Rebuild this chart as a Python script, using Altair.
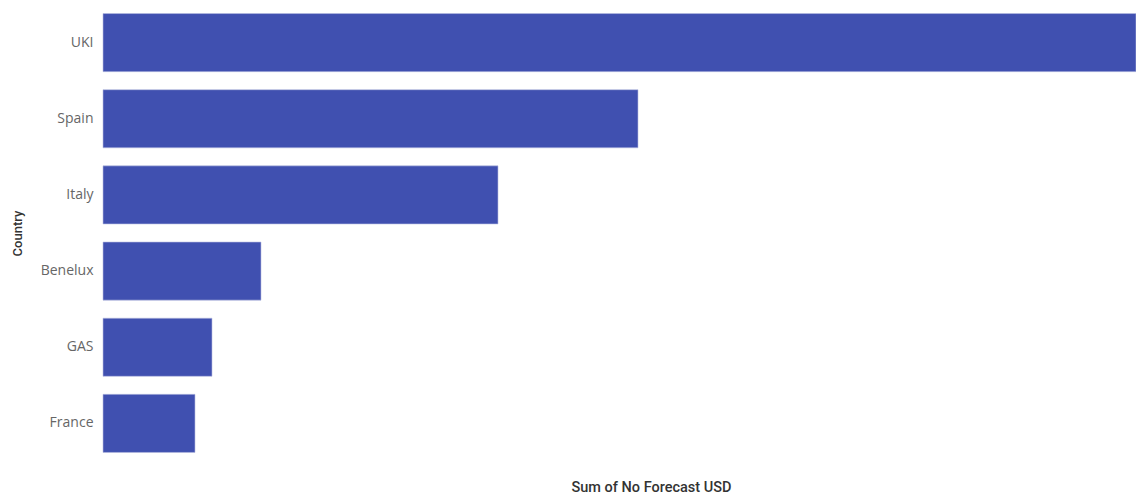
import altair as alt
import pandas as pd

countries = ["UKI", "Spain", "Italy", "Benelux", "GAS", "France"]
values = [1033, 535, 395, 158, 109, 92]

df = pd.DataFrame({"Country": countries, "Value": values})

chart = alt.Chart(df).mark_bar(color="#4050B0", stroke="#B8BEE0", strokeWidth=0.6).encode(
    y=alt.Y("Country:N", sort=countries,
            scale=alt.Scale(paddingInner=0.237, paddingOuter=0.178),
            axis=alt.Axis(title="Country", ticks=False, domain=False, labelPadding=10,
                          labelFont="Open Sans", labelFontSize=14, labelColor="#666666",
                          titleFont="Roboto", titleFontSize=13, titleFontWeight=500,
                          titleColor="#333333", titleAngle=-90, titleX=-86, titleY=233,
                          titleAlign="center", titleBaseline="middle")),
    x=alt.X("Value:Q", scale=alt.Scale(domain=[0, 1033], nice=False),
            axis=alt.Axis(title="Sum of No Forecast USD", labels=False, ticks=False,
                          domain=False, grid=False,
                          titleFont="Roboto", titleFontSize=14.5, titleFontWeight=500,
                          titleColor="#333333", titleX=548, titleY=21,
                          titleAlign="center", titleBaseline="middle")),
).properties(
    width=1033, height=466,
    autosize=alt.AutoSizeParams(type="none"),
    padding={"left": 103, "top": 0, "right": 0, "bottom": 29},
).configure_view(stroke=None)

chart.save("out.html", embed_options={"renderer": "svg", "actions": False})
